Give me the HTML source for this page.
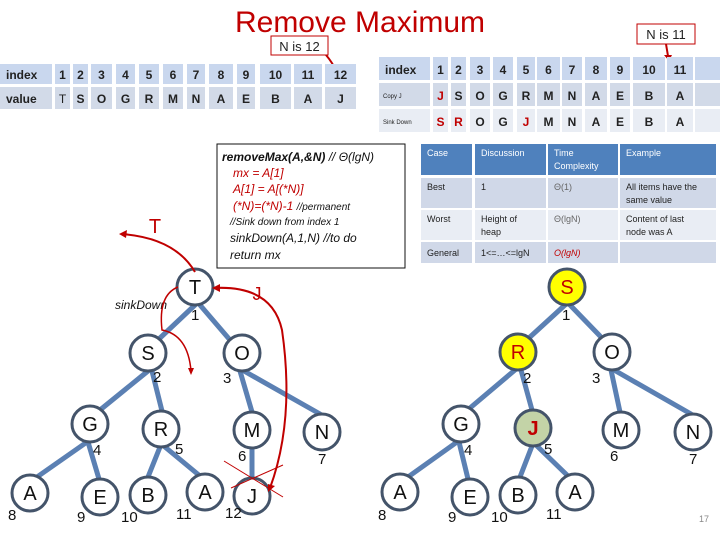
<!DOCTYPE html>
<html><head><meta charset="utf-8"><style>
html,body{margin:0;padding:0;background:#fff}
svg{display:block;font-family:"Liberation Sans",sans-serif}
.c{text-anchor:middle}
.tb{font-size:12px;fill:#222;font-weight:bold}
.nd{fill:#fff;stroke:#44546a;stroke-width:3}
.e{stroke:#5b80b3;stroke-width:5;stroke-linecap:round}
.nl{font-size:20px;fill:#111;text-anchor:middle}
.ix{font-size:15px;fill:#111}
.ct{font-size:9px;fill:#222}
.ch{font-size:9px;fill:#fff}
</style></head><body>
<svg width="720" height="540" viewBox="0 0 720 540" xmlns="http://www.w3.org/2000/svg">
<text x="360" y="32" class="c" font-size="30" fill="#c00000">Remove Maximum</text>
<rect x="271" y="36" width="57" height="19" fill="#fff" stroke="#c00000"/>
<text x="299.5" y="51" class="c" font-size="13" fill="#222">N is 12</text>
<rect x="637" y="24" width="58" height="20" fill="#fff" stroke="#c00000"/>
<text x="666" y="39" class="c" font-size="13" fill="#222">N is 11</text>
<path d="M326 55 Q332 62 337 72" stroke="#c00000" stroke-width="2" fill="none"/>
<polygon points="333,70 340,68 339,76" fill="#c00000"/>
<path d="M666 44 L668 56" stroke="#c00000" stroke-width="2" fill="none"/>
<polygon points="664,55 672,55 669,61" fill="#c00000"/>

<!-- left table -->
<g fill="#c9d7ee">
<rect x="0" y="64" width="52" height="20"/><rect x="55" y="64" width="15" height="20"/><rect x="73" y="64" width="15" height="20"/><rect x="91" y="64" width="21" height="20"/><rect x="116" y="64" width="19" height="20"/><rect x="139" y="64" width="20" height="20"/><rect x="163" y="64" width="20" height="20"/><rect x="187" y="64" width="18" height="20"/><rect x="209" y="64" width="24" height="20"/><rect x="237" y="64" width="18" height="20"/><rect x="260" y="64" width="31" height="20"/><rect x="294" y="64" width="28" height="20"/><rect x="325" y="64" width="31" height="20"/>
</g>
<g fill="#d2dae8">
<rect x="0" y="87" width="52" height="22"/><rect x="55" y="87" width="15" height="22"/><rect x="73" y="87" width="15" height="22"/><rect x="91" y="87" width="21" height="22"/><rect x="116" y="87" width="19" height="22"/><rect x="139" y="87" width="20" height="22"/><rect x="163" y="87" width="20" height="22"/><rect x="187" y="87" width="18" height="22"/><rect x="209" y="87" width="24" height="22"/><rect x="237" y="87" width="18" height="22"/><rect x="260" y="87" width="31" height="22"/><rect x="294" y="87" width="28" height="22"/><rect x="325" y="87" width="31" height="22"/>
</g>
<g class="tb">
<text x="6" y="79">index</text><text x="6" y="103">value</text>
</g>
<g class="tb c">
<text x="62.5" y="79">1</text><text x="80.5" y="79">2</text><text x="101.5" y="79">3</text><text x="125.5" y="79">4</text><text x="149" y="79">5</text><text x="173" y="79">6</text><text x="196" y="79">7</text><text x="221" y="79">8</text><text x="246" y="79">9</text><text x="275.5" y="79">10</text><text x="308" y="79">11</text><text x="340.5" y="79">12</text>
<text x="62.5" y="103" font-weight="normal">T</text><text x="80.5" y="103">S</text><text x="101.5" y="103">O</text><text x="125.5" y="103">G</text><text x="149" y="103">R</text><text x="173" y="103">M</text><text x="196" y="103">N</text><text x="221" y="103">A</text><text x="246" y="103">E</text><text x="275.5" y="103">B</text><text x="308" y="103">A</text><text x="340.5" y="103">J</text>
</g>

<!-- right table -->
<g fill="#c9d7ee">
<rect x="379" y="57" width="51" height="23"/><rect x="433" y="57" width="15" height="23"/><rect x="451" y="57" width="15" height="23"/><rect x="470" y="57" width="20" height="23"/><rect x="493" y="57" width="20" height="23"/><rect x="517" y="57" width="18" height="23"/><rect x="537" y="57" width="23" height="23"/><rect x="562" y="57" width="20" height="23"/><rect x="585" y="57" width="22" height="23"/><rect x="610" y="57" width="20" height="23"/><rect x="633" y="57" width="32" height="23"/><rect x="667" y="57" width="26" height="23"/><rect x="695" y="57" width="25" height="23"/>
</g>
<g fill="#d2dae8">
<rect x="379" y="83" width="51" height="23"/><rect x="433" y="83" width="15" height="23"/><rect x="451" y="83" width="15" height="23"/><rect x="470" y="83" width="20" height="23"/><rect x="493" y="83" width="20" height="23"/><rect x="517" y="83" width="18" height="23"/><rect x="537" y="83" width="23" height="23"/><rect x="562" y="83" width="20" height="23"/><rect x="585" y="83" width="22" height="23"/><rect x="610" y="83" width="20" height="23"/><rect x="633" y="83" width="32" height="23"/><rect x="667" y="83" width="26" height="23"/><rect x="695" y="83" width="25" height="23"/>
</g>
<g fill="#e9edf4">
<rect x="379" y="109" width="51" height="23"/><rect x="433" y="109" width="15" height="23"/><rect x="451" y="109" width="15" height="23"/><rect x="470" y="109" width="20" height="23"/><rect x="493" y="109" width="20" height="23"/><rect x="517" y="109" width="18" height="23"/><rect x="537" y="109" width="23" height="23"/><rect x="562" y="109" width="20" height="23"/><rect x="585" y="109" width="22" height="23"/><rect x="610" y="109" width="20" height="23"/><rect x="633" y="109" width="32" height="23"/><rect x="667" y="109" width="26" height="23"/><rect x="695" y="109" width="25" height="23"/>
</g>
<text x="385" y="74" class="tb">index</text>
<text x="383" y="98" font-size="6" fill="#222">Copy J</text>
<text x="383" y="124" font-size="6" fill="#222">Sink Down</text>
<g class="tb c">
<text x="440.5" y="74">1</text><text x="458.5" y="74">2</text><text x="480" y="74">3</text><text x="503" y="74">4</text><text x="526" y="74">5</text><text x="548.5" y="74">6</text><text x="572" y="74">7</text><text x="596" y="74">8</text><text x="620" y="74">9</text><text x="649" y="74">10</text><text x="680" y="74">11</text>
<text x="440.5" y="100" fill="#c00000">J</text><text x="458.5" y="100">S</text><text x="480" y="100">O</text><text x="503" y="100">G</text><text x="526" y="100">R</text><text x="548.5" y="100">M</text><text x="572" y="100">N</text><text x="596" y="100">A</text><text x="620" y="100">E</text><text x="649" y="100">B</text><text x="680" y="100">A</text>
<text x="440.5" y="126" fill="#c00000">S</text><text x="458.5" y="126" fill="#c00000">R</text><text x="480" y="126">O</text><text x="503" y="126">G</text><text x="526" y="126" fill="#c00000">J</text><text x="548.5" y="126">M</text><text x="572" y="126">N</text><text x="596" y="126">A</text><text x="620" y="126">E</text><text x="649" y="126">B</text><text x="680" y="126">A</text>
</g>

<!-- code box -->
<rect x="217" y="144" width="188" height="124" fill="#fff" stroke="#111" stroke-width="1"/>
<g font-style="italic" font-size="12">
<text x="222" y="161" fill="#111"><tspan font-weight="bold">removeMax(A,&amp;N)</tspan>  // Θ(lgN)</text>
<text x="233" y="177" fill="#c00000">mx = A[1]</text>
<text x="233" y="193" fill="#c00000">A[1] = A[(*N)]</text>
<text x="233" y="210" fill="#c00000">(*N)=(*N)-1 <tspan fill="#111" font-size="10">//permanent</tspan></text>
<text x="230" y="225" fill="#111" font-size="10">//Sink down from index 1</text>
<text x="230" y="242" fill="#111">sinkDown(A,1,N)  //to do</text>
<text x="230" y="259" fill="#111">return mx</text>
</g>

<!-- case table -->
<rect x="421" y="144" width="51" height="31" fill="#4f81bd"/><rect x="475" y="144" width="71" height="31" fill="#4f81bd"/><rect x="548" y="144" width="70" height="31" fill="#4f81bd"/><rect x="620" y="144" width="96" height="31" fill="#4f81bd"/>
<g fill="#d0d8e8"><rect x="421" y="178" width="51" height="30"/><rect x="475" y="178" width="71" height="30"/><rect x="548" y="178" width="70" height="30"/><rect x="620" y="178" width="96" height="30"/>
<rect x="421" y="242" width="51" height="21"/><rect x="475" y="242" width="71" height="21"/><rect x="548" y="242" width="70" height="21"/><rect x="620" y="242" width="96" height="21"/></g>
<g fill="#e9edf4"><rect x="421" y="210" width="51" height="30"/><rect x="475" y="210" width="71" height="30"/><rect x="548" y="210" width="70" height="30"/><rect x="620" y="210" width="96" height="30"/></g>
<g class="ch"><text x="427" y="156">Case</text><text x="481" y="156">Discussion</text><text x="554" y="156">Time</text><text x="554" y="169">Complexity</text><text x="626" y="156">Example</text></g>
<g class="ct">
<text x="427" y="190">Best</text><text x="481" y="190">1</text><text x="554" y="190" fill="#666">Θ(1)</text><text x="626" y="190">All items have the</text><text x="626" y="203">same value</text>
<text x="427" y="222">Worst</text><text x="481" y="222">Height of</text><text x="481" y="235">heap</text><text x="554" y="222" fill="#666">Θ(lgN)</text><text x="626" y="222">Content of last</text><text x="626" y="235">node was A</text>
<text x="427" y="256">General</text><text x="481" y="256">1&lt;=…&lt;=lgN</text><text x="554" y="256" fill="#c00000" font-style="italic">O(lgN)</text>
</g>

<!-- left tree edges -->
<g class="e">
<line x1="195" y1="305" x2="160" y2="338"/><line x1="200" y1="305" x2="230" y2="340"/>
<line x1="148" y1="371" x2="100" y2="410"/><line x1="152" y1="371" x2="162" y2="411"/>
<line x1="240" y1="371" x2="252" y2="412"/><line x1="244" y1="371" x2="320" y2="414"/>
<line x1="87" y1="442" x2="37" y2="477"/><line x1="88" y1="442" x2="99" y2="479"/>
<line x1="160" y1="447" x2="148" y2="477"/><line x1="165" y1="447" x2="200" y2="476"/>
<line x1="252" y1="448" x2="252" y2="478"/>
</g>
<g>
<circle cx="195" cy="287" r="18" class="nd"/><circle cx="148" cy="353" r="18" class="nd"/><circle cx="242" cy="353" r="18" class="nd"/>
<circle cx="90" cy="424" r="18" class="nd"/><circle cx="161" cy="429" r="18" class="nd"/><circle cx="252" cy="430" r="18" class="nd"/><circle cx="322" cy="432" r="18" class="nd"/>
<circle cx="30" cy="493" r="18" class="nd"/><circle cx="100" cy="497" r="18" class="nd"/><circle cx="148" cy="495" r="18" class="nd"/><circle cx="205" cy="492" r="18" class="nd"/><circle cx="252" cy="496" r="18" class="nd"/>
</g>
<g class="nl">
<text x="195" y="294">T</text><text x="148" y="360">S</text><text x="242" y="360">O</text>
<text x="90" y="431">G</text><text x="161" y="436">R</text><text x="252" y="437">M</text><text x="322" y="439">N</text>
<text x="30" y="500">A</text><text x="100" y="504">E</text><text x="148" y="502">B</text><text x="205" y="499">A</text><text x="252" y="503">J</text>
</g>
<g class="ix">
<text x="191" y="320">1</text><text x="153" y="382">2</text><text x="223" y="383">3</text><text x="93" y="455">4</text><text x="175" y="454">5</text><text x="238" y="461">6</text><text x="318" y="464">7</text>
<text x="8" y="520">8</text><text x="77" y="522">9</text><text x="121" y="522">10</text><text x="176" y="519">11</text><text x="225" y="518">12</text>
</g>
<!-- red annotations left -->
<path d="M195 272 Q175 238 122 234" stroke="#c00000" stroke-width="2" fill="none"/>
<polygon points="119,234 127,230 126,238" fill="#c00000"/>
<text x="155" y="233" class="c" font-size="20" fill="#c00000">T</text>
<text x="115" y="309" font-size="12" font-style="italic" fill="#111">sinkDown</text>
<path d="M178 287 Q158 295 162 330 Q188 335 191 371" stroke="#c00000" stroke-width="1.5" fill="none"/>
<polygon points="188,368 194,368 191,375" fill="#c00000"/>
<path d="M270 488 Q295 420 282 330 Q272 285 214 288" stroke="#c00000" stroke-width="2" fill="none"/>
<polygon points="212,288 220,284 220,292" fill="#c00000"/>
<polygon points="268,484 275,486 268,492" fill="#c00000"/>
<text x="257" y="300" class="c" font-size="18" fill="#c00000">J</text>
<line x1="224" y1="461" x2="283" y2="497" stroke="#c00000" stroke-width="1"/>
<line x1="231" y1="488" x2="283" y2="465" stroke="#c00000" stroke-width="1"/>

<!-- right tree -->
<g class="e">
<line x1="565" y1="305" x2="530" y2="337"/><line x1="570" y1="305" x2="600" y2="336"/>
<line x1="515" y1="370" x2="470" y2="408"/><line x1="521" y1="370" x2="532" y2="410"/>
<line x1="611" y1="370" x2="620" y2="412"/><line x1="614" y1="370" x2="691" y2="414"/>
<line x1="457" y1="442" x2="408" y2="477"/><line x1="459" y1="442" x2="468" y2="479"/>
<line x1="532" y1="446" x2="520" y2="477"/><line x1="537" y1="446" x2="568" y2="476"/>
</g>
<circle cx="567" cy="287" r="18" class="nd" style="fill:#ffff00"/><circle cx="518" cy="352" r="18" class="nd" style="fill:#ffff00"/><circle cx="612" cy="352" r="18" class="nd"/>
<circle cx="461" cy="424" r="18" class="nd"/><circle cx="533" cy="428" r="18" class="nd" style="fill:#c3d3a7"/><circle cx="621" cy="430" r="18" class="nd"/><circle cx="693" cy="432" r="18" class="nd"/>
<circle cx="400" cy="492" r="18" class="nd"/><circle cx="470" cy="497" r="18" class="nd"/><circle cx="518" cy="495" r="18" class="nd"/><circle cx="575" cy="492" r="18" class="nd"/>
<g class="nl">
<text x="567" y="294" fill="#c00000">S</text><text x="518" y="359" fill="#c00000">R</text><text x="612" y="359">O</text>
<text x="461" y="431">G</text><text x="533" y="435" fill="#c00000" font-weight="bold">J</text><text x="621" y="437">M</text><text x="693" y="439">N</text>
<text x="400" y="499">A</text><text x="470" y="504">E</text><text x="518" y="502">B</text><text x="575" y="499">A</text>
</g>
<g class="ix">
<text x="562" y="320">1</text><text x="523" y="383">2</text><text x="592" y="383">3</text><text x="464" y="455">4</text><text x="544" y="454">5</text><text x="610" y="461">6</text><text x="689" y="464">7</text>
<text x="378" y="520">8</text><text x="448" y="522">9</text><text x="491" y="522">10</text><text x="546" y="519">11</text>
</g>
<text x="699" y="522" font-size="9" fill="#888">17</text>
</svg>
</body></html>
